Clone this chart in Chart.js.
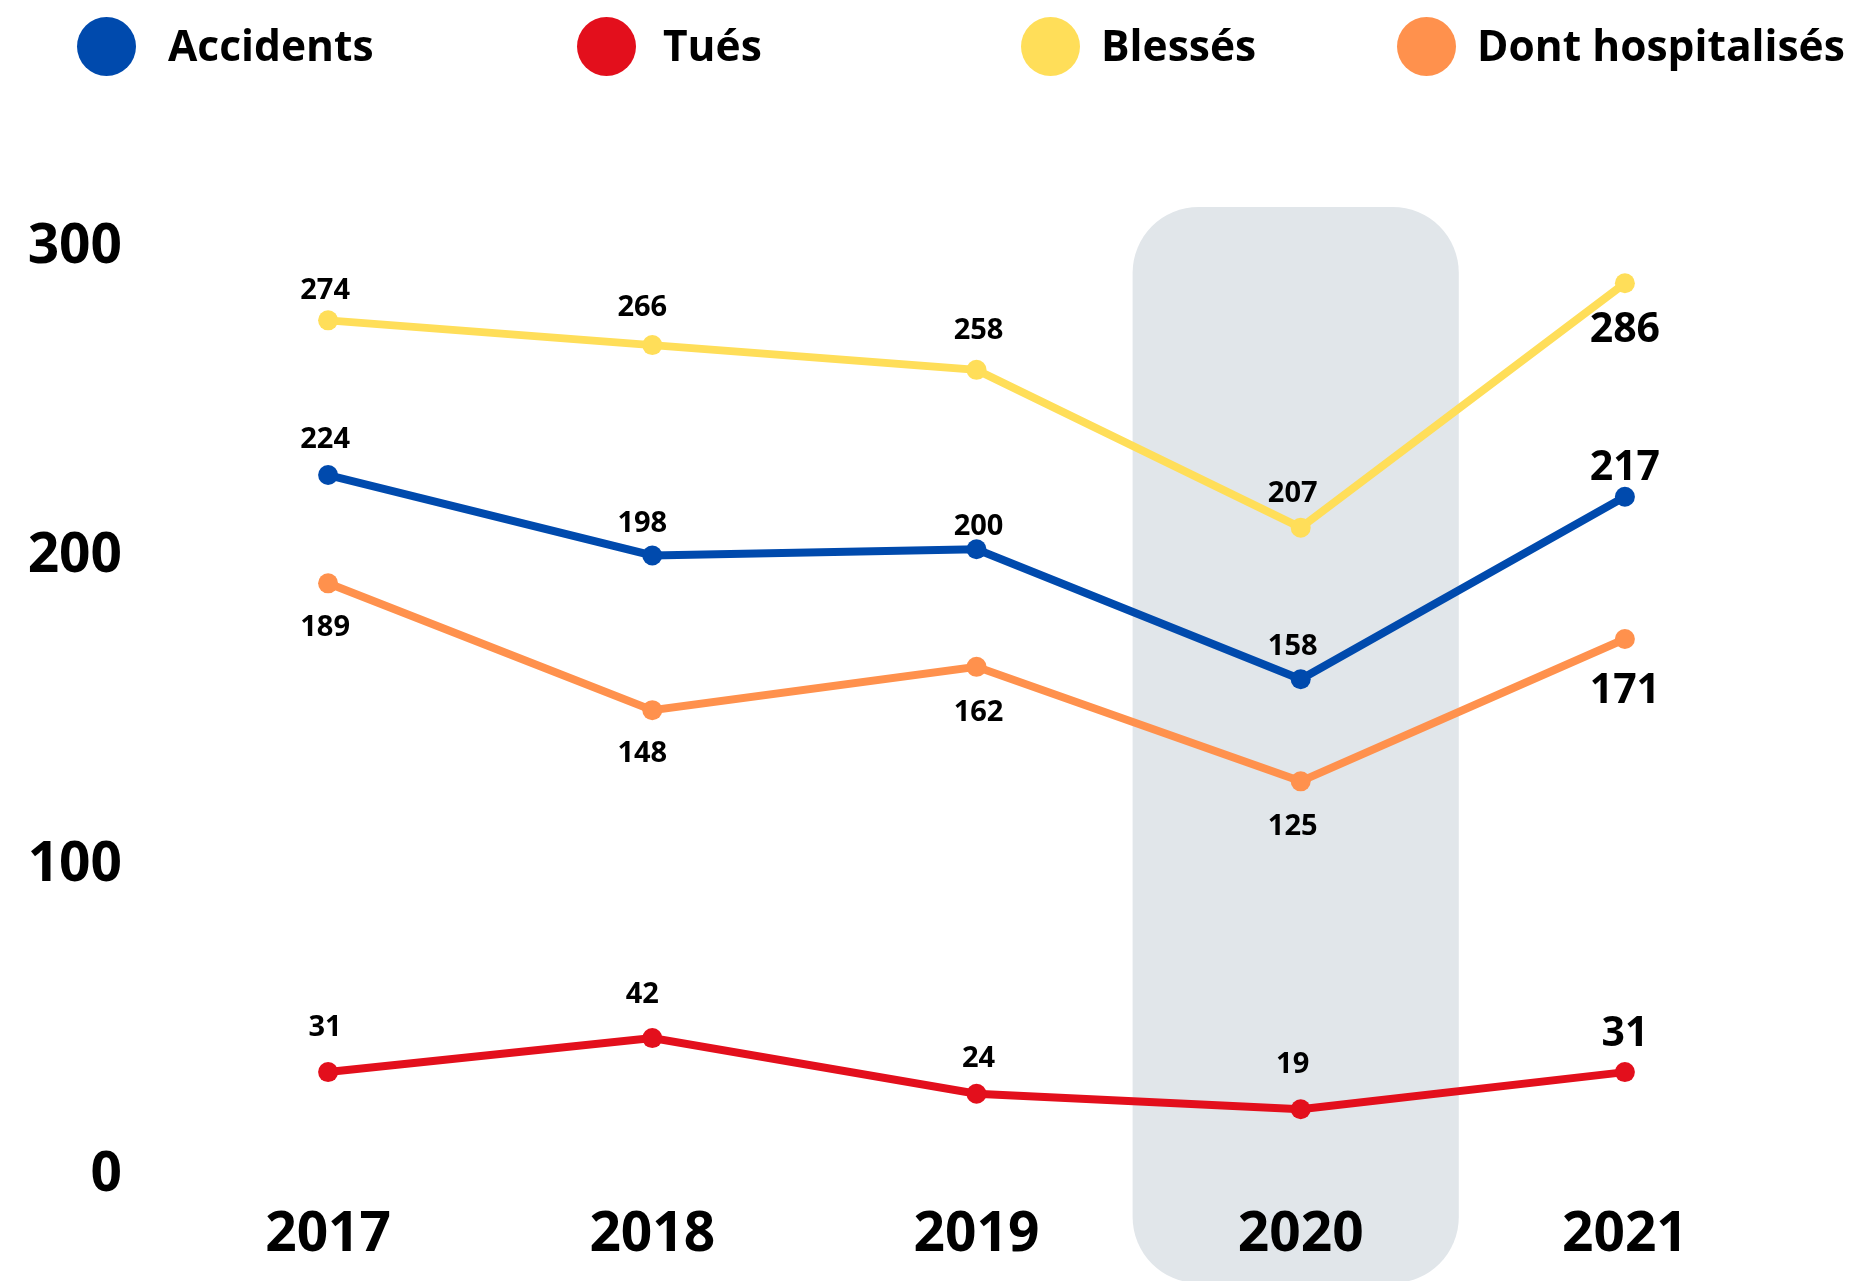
<!DOCTYPE html>
<html>
<head>
<meta charset="utf-8">
<script src="https://cdn.jsdelivr.net/npm/chart.js@4"></script>
<style>
  body { margin: 0; background: #fff; font-family: "Open Sans", sans-serif; }
  #wrap { position: relative; width: 1856px; height: 1281px; overflow: hidden; }
  #legend { position: absolute; left: 0; top: 0; width: 1856px; height: 92px; }
  .dot { position: absolute; top: 17px; width: 59px; height: 59px; border-radius: 50%; }
  .txt { position: absolute; top: 15px; height: 60px; line-height: 60px; font-weight: 700; font-size: 42.5px; color: #000; white-space: nowrap; }
</style>
</head>
<body>
<div id="wrap">
  <canvas id="lineChart" width="1856" height="1281"></canvas>
  <div id="legend"></div>
</div>
<script>
const ctxLine = document.getElementById("lineChart");

const years = ["2017", "2018", "2019", "2020", "2021"];
const accidents = [224, 198, 200, 158, 217];
const tues = [31, 42, 24, 19, 31];
const blesses = [274, 266, 258, 207, 286];
const hospitalises = [189, 148, 162, 125, 171];
const yTicks = [0, 100, 200, 300];
const highlightYear = "2020";

const COLORS = {
  blue: "#004aad",
  red: "#e30f1c",
  yellow: "#ffde59",
  orange: "#ff914d",
  grey: "#e1e6ea",
};

// value label placement: vertical offset from the point (px, negative = above)
const labelOffsetY = {
  Accidents: [-35, -32, -23, -32, -28],
  "Tués": [-44, -43, -35, -44, -38],
  "Blessés": [-30, -37, -39, -34, 47],
  "Dont hospitalisés": [44, 44, 46, 45, 52],
};
// small horizontal nudge per year
const labelOffsetX = [-3, -10, 2, -8, 0];

function lineSet(label, data, color) {
  return {
    label: label,
    data: data,
    borderColor: color,
    backgroundColor: color,
    borderWidth: 8,
    pointRadius: 10,
    pointHoverRadius: 10,
    pointBorderWidth: 0,
    tension: 0,
  };
}

const dataLine = {
  labels: years,
  datasets: [
    lineSet("Accidents", accidents, COLORS.blue),
    lineSet("Tués", tues, COLORS.red),
    lineSet("Blessés", blesses, COLORS.yellow),
    lineSet("Dont hospitalisés", hospitalises, COLORS.orange),
  ],
};

// grey rounded band behind 2020, drawn before the axes
const highlightPlugin = {
  id: "highlight",
  beforeDraw(chart) {
    const { ctx, chartArea, scales } = chart;
    const x = scales.x;
    const idx = years.indexOf(highlightYear);
    const step = x.getPixelForValue(1) - x.getPixelForValue(0);
    const left = x.getPixelForValue(idx) - step / 2 - 6;
    const top = chartArea.top - 2;
    ctx.save();
    ctx.fillStyle = COLORS.grey;
    ctx.beginPath();
    ctx.roundRect(left, top, step + 2, chart.height - top + 2, 66);
    ctx.fill();
    ctx.restore();
  },
};

// value labels above / below points
const valueLabels = {
  id: "valueLabels",
  afterDatasetsDraw(chart) {
    const ctx = chart.ctx;
    ctx.save();
    ctx.fillStyle = "#000";
    ctx.textAlign = "center";
    ctx.textBaseline = "middle";
    chart.data.datasets.forEach((ds, i) => {
      const meta = chart.getDatasetMeta(i);
      meta.data.forEach((pt, j) => {
        const last = j === ds.data.length - 1;
        ctx.font = (last ? "700 41px" : "700 29px") + ' "Open Sans"';
        ctx.fillText(String(ds.data[j]), pt.x + labelOffsetX[j], pt.y + labelOffsetY[ds.label][j]);
      });
    });
    ctx.restore();
  },
};

const lineChart = new Chart(ctxLine, {
  type: "line",
  data: dataLine,
  options: {
    responsive: false,
    animation: false,
    layout: {
      padding: { top: 209, right: 69, bottom: 17, left: 0 },
    },
    plugins: {
      legend: { display: false },
      tooltip: { enabled: false },
    },
    scales: {
      x: {
        offset: true,
        grid: { display: false, drawTicks: false },
        border: { display: false },
        afterFit(scale) {
          scale.height = 96;
        },
        ticks: {
          padding: 34,
          color: "#000",
          font: { family: "Open Sans", size: 55, weight: "700" },
        },
      },
      y: {
        min: 0,
        max: 310,
        grid: { display: false, drawTicks: false },
        border: { display: false },
        afterBuildTicks(scale) {
          scale.ticks = yTicks.map((v) => ({ value: v }));
        },
        afterFit(scale) {
          scale.width = 166;
        },
        ticks: {
          padding: 44,
          labelOffset: 7,
          color: "#000",
          font: { family: "Open Sans", size: 55, weight: "700" },
        },
      },
    },
  },
  plugins: [highlightPlugin, valueLabels],
});

// legend built from the datasets
const legendDotX = [106, 606, 1050, 1426];
const legendTextX = [168, 663, 1101, 1477];
const legend = document.getElementById("legend");
dataLine.datasets.forEach((ds, i) => {
  const dot = document.createElement("div");
  dot.className = "dot";
  dot.style.left = legendDotX[i] - 29.5 + "px";
  dot.style.background = ds.borderColor;
  legend.appendChild(dot);
  const txt = document.createElement("div");
  txt.className = "txt";
  txt.style.left = legendTextX[i] + "px";
  txt.textContent = ds.label;
  legend.appendChild(txt);
});
</script>
</body>
</html>
